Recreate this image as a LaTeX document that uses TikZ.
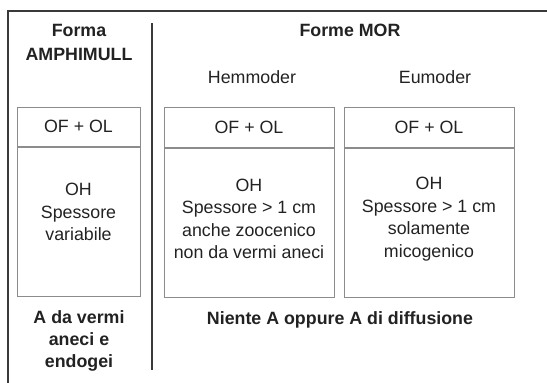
\documentclass[tikz,border=0pt]{standalone}
\usepackage{fontspec}
\setmainfont{Liberation Sans}
\usetikzlibrary{positioning}

\definecolor{framegray}{HTML}{3A3A3A}
\definecolor{boxgray}{HTML}{8C8C8C}
\definecolor{inkgray}{HTML}{222222}

\tikzset{
  layerbox/.style={draw=boxgray, line width=1pt, inner sep=0pt, text=inkgray},
  headtext/.style={font=\fontsize{17.8}{24}\selectfont\bfseries, align=center, text=inkgray, inner sep=0pt},
  plaintext/.style={font=\fontsize{17.8}{22.5}\selectfont, align=center, text=inkgray, inner sep=0pt}
}

\begin{document}
\begin{tikzpicture}[x=1pt, y=-1pt]
  \useasboundingbox (0,0) rectangle (547,383);

  % Outer frame and divider
  \coordinate (fR) at (547,11);
  \coordinate (fTL) at (8,11);
  \coordinate (fB) at (8,383);
  \draw[framegray, line width=1.3pt] (fR) -- (fTL) -- (fB);
  \coordinate (dT) at (152,23);
  \coordinate (dB) at (152,370);
  \draw[framegray, line width=1.3pt] (dT) -- (dB);

  % Headings
  \node (amph) at (79,42) [headtext] {Forma\\AMPHIMULL};
  \node (mor) at (350,30) [headtext] {Forme MOR};
  \node (hemm) at (252,77) [plaintext] {Hemmoder};
  \node (eum) at (435,77) [plaintext] {Eumoder};

  % Amphimull column
  \node (ofA) at (78.5,126.5) [layerbox, minimum width=123pt, minimum height=39pt, font=\fontsize{17.8}{22.5}\selectfont] {OF + OL};
  \node (ohA) [layerbox, below=0pt of ofA, minimum width=123pt, minimum height=149pt] {};
  \node (txA) at (78.5,212) [plaintext] {OH\\Spessore\\variabile};

  % Hemmoder column
  \node (ofB) at (249,127) [layerbox, minimum width=170pt, minimum height=40pt, font=\fontsize{17.8}{22.5}\selectfont] {OF + OL};
  \node (ohB) [layerbox, below=0pt of ofB, minimum width=170pt, minimum height=149pt] {};
  \node (txB) at (249,219) [plaintext] {OH\\Spessore > 1 cm\\anche zoocenico\\non da vermi aneci};

  % Eumoder column
  \node (ofC) at (429,127) [layerbox, minimum width=170pt, minimum height=40pt, font=\fontsize{17.8}{22.5}\selectfont] {OF + OL};
  \node (ohC) [layerbox, below=0pt of ofC, minimum width=170pt, minimum height=149pt] {};
  \node (txC) at (429,219) [plaintext] {OH\\Spessore > 1 cm\\solamente\\micogenico};

  % Humus A horizon
  \node (baseA) at (79,341) [headtext, font=\fontsize{17.8}{22}\selectfont\bfseries] {A da vermi\\aneci e\\endogei};
  \node (baseB) at (340,320) [headtext] {Niente A oppure A di diffusione};

\end{tikzpicture}
\end{document}
